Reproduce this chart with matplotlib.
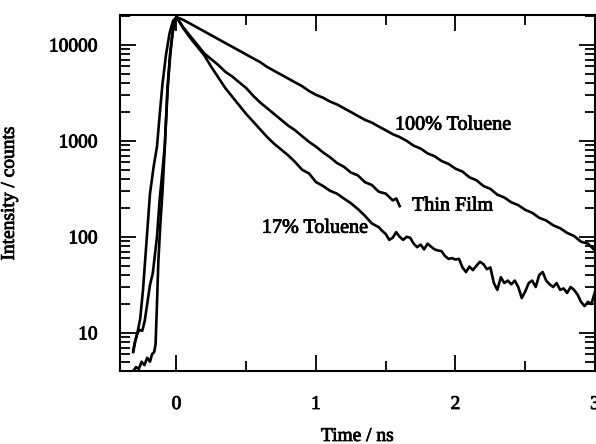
import matplotlib
matplotlib.use("Agg")
import matplotlib.pyplot as plt
import matplotlib.patheffects as pe
from matplotlib.ticker import FixedLocator, NullFormatter

plt.rcParams['font.family'] = ['Liberation Serif', 'DejaVu Serif']

# ---- data (time in ns, intensity in counts) ----
t_tol100 = [-0.31, -0.295, -0.28, -0.26, -0.24, -0.215, -0.19, -0.165, -0.14, -0.12, -0.10, -0.075, -0.05, -0.025,
            0.00, 0.05, 0.10, 0.15, 0.20, 0.25, 0.30, 0.35, 0.40, 0.45, 0.50, 0.55, 0.60, 0.65, 0.70, 0.75,
            0.80, 0.85, 0.90, 0.95, 1.00, 1.05, 1.10, 1.15, 1.20, 1.25, 1.30, 1.35, 1.40, 1.45, 1.50, 1.55,
            1.60, 1.65, 1.70, 1.75, 1.80, 1.85, 1.90, 1.95, 2.00, 2.05, 2.10, 2.15, 2.20, 2.25, 2.30, 2.35,
            2.40, 2.45, 2.50, 2.55, 2.60, 2.65, 2.70, 2.75, 2.80, 2.85, 2.90, 2.95, 3.00]
i_tol100 = [6.3, 8.3, 10, 14.1, 28.2, 89, 282, 525, 871, 1905, 3981, 7943, 13180, 17780,
            19500, 18200, 16600, 15140, 13800, 12590, 11480, 10470, 9550, 8710, 7940, 7240, 6610, 5890, 5370, 4900,
            4470, 4070, 3720, 3310, 3020, 2820, 2570, 2400, 2190, 2000, 1820, 1660, 1550, 1410, 1290, 1175,
            1096, 1000, 891, 832, 741, 692, 617, 575, 513, 479, 417, 389, 339, 316, 275, 257,
            229, 214, 191, 178, 158, 148, 132, 123, 110, 102, 89, 85, 72]

t_film = [-0.31, -0.30, -0.28, -0.263, -0.245, -0.227, -0.206, -0.19, -0.17, -0.14, -0.12, -0.10, -0.084, -0.063,
          -0.045, -0.027, -0.012,
          0.00, 0.05, 0.10, 0.15, 0.20, 0.25, 0.30, 0.35, 0.40, 0.45, 0.50, 0.55, 0.60, 0.65, 0.70, 0.75,
          0.80, 0.85, 0.90, 0.95, 1.00, 1.05, 1.10, 1.15, 1.20, 1.25, 1.30, 1.35, 1.40, 1.45, 1.50, 1.55,
          1.575, 1.60]
i_film = [6.6, 7.8, 10, 10.7, 10.5, 13.5, 21.9, 31.6, 41.7, 100, 251, 501, 891, 3548,
          7943, 13490, 17380,
          19500, 15140, 12300, 10000, 8130, 7080, 6170, 5250, 4680, 4070, 3550, 2950, 2510, 2190, 1905, 1660,
          1445, 1290, 1122, 977, 871, 759, 676, 589, 537, 468, 437, 372, 347, 295, 282, 240,
          251, 209]

t_tol17 = [-0.31, -0.29, -0.27, -0.25, -0.23, -0.21, -0.19, -0.175, -0.16, -0.15, -0.14, -0.13, -0.115, -0.10,
           -0.085, -0.065, -0.045, -0.027, -0.012,
           0.00, 0.05, 0.10, 0.15, 0.20, 0.25, 0.30, 0.35, 0.40, 0.45, 0.50, 0.55, 0.60, 0.65, 0.70, 0.75,
           0.80, 0.85, 0.90, 0.95, 1.00, 1.05, 1.10, 1.15, 1.20, 1.25, 1.30, 1.35, 1.40, 1.45, 1.475,
           1.500, 1.525, 1.550, 1.575, 1.600, 1.625, 1.650, 1.675, 1.700, 1.725, 1.750, 1.775, 1.800, 1.825,
           1.850, 1.875, 1.900, 1.925, 1.950, 1.975, 2.000, 2.025, 2.050, 2.075, 2.100, 2.125, 2.150, 2.175,
           2.200, 2.225, 2.250, 2.275, 2.300, 2.325, 2.350, 2.375, 2.400, 2.425, 2.450, 2.475, 2.500, 2.525,
           2.550, 2.575, 2.600, 2.625, 2.650, 2.675, 2.700, 2.725, 2.750, 2.775, 2.800, 2.825, 2.850, 2.875,
           2.900, 2.925, 2.950, 2.975, 3.000]
i_tol17 = [4.0, 4.4, 4.2, 5.0, 4.6, 5.5, 5.0, 6.0, 6.3, 7.6, 20, 56, 141, 302,
           794, 3548, 8318, 14130, 17780,
           19500, 14790, 11750, 9550, 7760, 5890, 4570, 3550, 2880, 2340, 1905, 1585, 1318, 1096, 933, 813,
           708, 603, 501, 457, 372, 339, 302, 282, 251, 224, 195, 166, 138, 126, 115,
           107, 93, 98, 112, 100, 93, 100, 98, 85, 78, 83, 74, 85, 79,
           74, 72, 71, 63, 59, 60, 58, 59, 48, 43, 49, 45, 50, 55,
           52, 46, 48, 33, 28, 38, 33, 35, 32, 35, 30, 23, 27, 33,
           35, 30, 40, 43, 35, 32, 30, 33, 28, 29, 26, 30, 28, 25,
           21, 19, 21, 20, 27]

y_major = [10, 100, 1000, 10000]
y_major_labels = ["10", "100", "1000", "10000"]
x_major = [0, 1, 2, 3]
x_major_labels = ["0", "1", "2", "3"]
x_minor = [0.5, 1.5, 2.5]

labels = ["100% Toluene", "Thin Film", "17% Toluene"]
label_pos = [(1.566, 1460), (1.688, 209), (0.612, 123)]

# ---- figure ----
fig = plt.figure(figsize=(5.96, 4.44), dpi=100)
ax = fig.add_axes([120/596, 73/444, 475/596, 356/444])

for t, i in [(t_tol100, i_tol100), (t_film, i_film), (t_tol17, i_tol17)]:
    ax.plot(t, i, color='black', lw=1.9, solid_joinstyle='round')

ax.set_yscale('log')
ax.set_xlim(-0.405, 3.0)
ax.set_ylim(4.0, 20500)

ax.yaxis.set_major_locator(FixedLocator(y_major))
ax.set_yticklabels(y_major_labels)
minor_y = [m * d for d in [1, 10, 100, 1000, 10000] for m in range(2, 10)]
ax.yaxis.set_minor_locator(FixedLocator(minor_y))
ax.yaxis.set_minor_formatter(NullFormatter())
ax.set_xticks(x_major)
ax.set_xticklabels(x_major_labels)
ax.set_xticks(x_minor, minor=True)

ax.tick_params(which='both', direction='in', top=True, right=True, width=1.3, labelsize=14)
ax.tick_params(which='major', length=11.5)
ax.tick_params(which='minor', length=7)
ax.tick_params(axis='y', which='major', pad=16)
ax.tick_params(axis='x', which='major', pad=18)

for s in ax.spines.values():
    s.set_linewidth(1.5)

thick = [pe.withStroke(linewidth=0.6, foreground='black')]

for txt, (x, y) in zip(labels, label_pos):
    ax.text(x, y, txt, fontsize=14.5, ha='left', va='center', path_effects=thick)

ax.set_xlabel("Time / ns", fontsize=14, path_effects=thick)
ax.xaxis.set_label_coords(0.5, -0.16)
ax.set_ylabel("Intensity / counts", fontsize=14, path_effects=thick)
ax.yaxis.set_label_coords(-0.215, 0.5)

for lab in ax.get_xticklabels() + ax.get_yticklabels():
    lab.set_path_effects(thick)

fig.savefig("out.png", dpi=100)
